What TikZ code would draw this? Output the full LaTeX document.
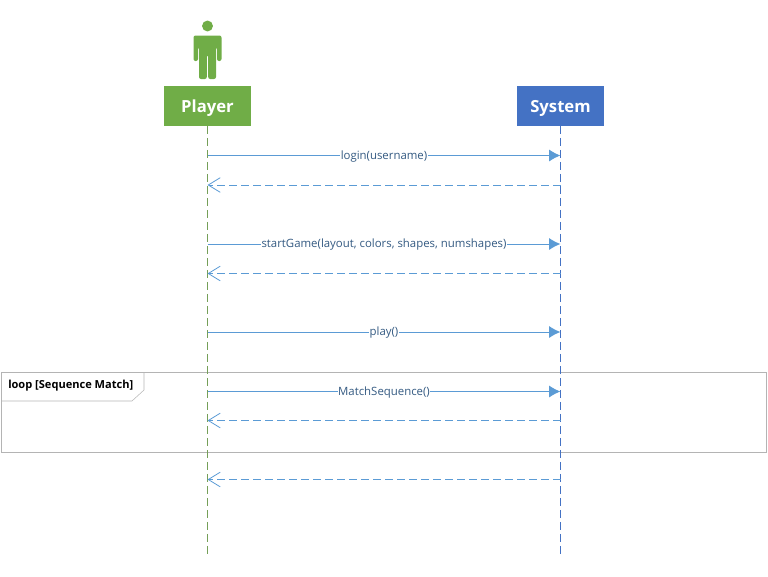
\documentclass[tikz,border=0pt]{standalone}
\usepackage{fontspec}
\setmainfont{Open Sans}
\usetikzlibrary{arrows.meta,positioning}
\definecolor{umlgreen}{RGB}{112,173,71}
\definecolor{umlblue}{RGB}{68,114,196}
\definecolor{umlline}{RGB}{91,155,213}
\definecolor{umltext}{RGB}{52,90,130}
\definecolor{umlframe}{RGB}{180,180,180}
\begin{document}
\begin{tikzpicture}[
        x=0.75pt, y=-0.75pt,
        actorbox/.style={rectangle, minimum width=65.25pt, minimum height=30pt, inner sep=0pt,
          text height=12.5pt, text depth=1.3pt, text=white, font=\fontsize{12.5}{14}\selectfont\bfseries},
        lifeline/.style={dash pattern=on 6pt off 3pt, line width=0.6pt},
        call/.style={-{Latex[length=8.5pt,width=9pt]}, umlline, line width=0.75pt},
        reply/.style={-{Straight Barb[length=9pt,width=11pt]}, umlline, line width=0.6pt, dash pattern=on 6pt off 3pt},
        msg/.style={fill=white, inner sep=0.4pt, yshift=-0.6pt, text=umltext, font=\fontsize{8.55}{10}\selectfont}
      ]
        \useasboundingbox (0,0) rectangle (768,576);

        % frame
        \node[draw=umlframe, thin, minimum width=573.75pt, minimum height=60.5pt, inner sep=0pt] (frame) at (383.5,412.3) {};
        \node[anchor=west, inner sep=0pt, font=\fontsize{8.3}{10}\selectfont\bfseries] (looplabel) at (8,386) {loop [Sequence Match]};
        \coordinate (tabtop) at (144,372);
        \coordinate (tabmid) at (144,390);
        \coordinate (tabcut) at (132,401);
        \coordinate (tableft) at (1,401);
        \draw[umlframe, thin] (tabtop) -- (tabmid) -- (tabcut) -- (tableft);

        % actors
        \node[actorbox, fill=umlgreen] (player) at (207.5,105.5) {Player};
        \node[actorbox, fill=umlblue]  (system) at (560.5,105.5) {System};
        \coordinate (playerend) at (207.5,555);
        \coordinate (systemend) at (560.5,555);
        \draw[lifeline, umlgreen!70!gray] (player.south) -- (playerend);
        \draw[lifeline, umlblue]  (system.south) -- (systemend);

        % stick figure
        \fill[umlgreen] (207.5,26) circle (4.1pt);
        \fill[umlgreen, rounded corners=1.5pt] (193.5,35.5) -- (221.5,35.5) -- (221.5,61) -- (217,61)
          -- (217,47) -- (216,47) -- (216,79) -- (208.2,79) -- (208.2,55) -- (206.8,55) -- (206.8,79)
          -- (199,79) -- (199,47) -- (198,47) -- (198,61) -- (193.5,61) -- cycle;

        % messages
        \foreach \name/\ypos in {a/155.5, b/185, c/244, d/273.5, e/332, f/391.5, g/420.5, h/479.5} {
          \coordinate (p\name) at (207.5,\ypos);
          \coordinate (s\name) at (560.5,\ypos);
        }
        \draw[call] (pa) -- node[msg] (login) {login(username)} (sa);
        \draw[reply] (sb) -- (pb);
        \draw[call] (pc) -- node[msg] (start) {startGame(layout, colors, shapes, numshapes)} (sc);
        \draw[reply] (sd) -- (pd);
        \draw[call] (pe) -- node[msg] (play) {play()} (se);
        \draw[call] (pf) -- node[msg] (match) {MatchSequence()} (sf);
        \draw[reply] (sg) -- (pg);
        \draw[reply] (sh) -- (ph);
      \end{tikzpicture}
\end{document}
